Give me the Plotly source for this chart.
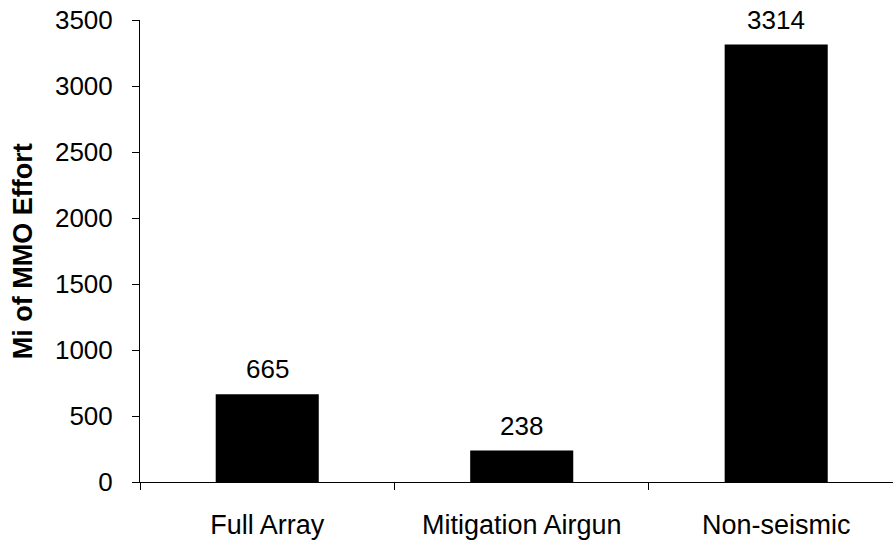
import plotly.graph_objects as go

categories = ["Full Array", "Mitigation Airgun", "Non-seismic"]
values = [665, 238, 3314]
y_ticks = [0, 500, 1000, 1500, 2000, 2500, 3000, 3500]
y_title = "Mi of MMO Effort"

FONT = "Liberation Sans, Arial, sans-serif"

fig = go.Figure()
fig.add_trace(go.Bar(
    x=categories, y=values,
    marker=dict(color="black", line=dict(color="black", width=0)),
    showlegend=False, hoverinfo="skip",
))

for c, v in zip(categories, values):
    fig.add_annotation(x=c, y=v, xref="x", yref="y", text=str(v),
                       showarrow=False, yanchor="bottom", yshift=8,
                       font=dict(family=FONT, size=26, color="black"))

fig.add_annotation(x=-0.155, y=0.5, xref="paper", yref="paper", text="<b>%s</b>" % y_title,
                   showarrow=False, textangle=-90, xanchor="center", yanchor="middle",
                   font=dict(family=FONT, size=27, color="black"))

fig.update_layout(
    width=893, height=541,
    margin=dict(l=140, r=0, t=20, b=59, autoexpand=False),
    plot_bgcolor="white", paper_bgcolor="white",
    bargap=0.595,
    font=dict(family=FONT, size=26, color="black"),
)
fig.update_xaxes(
    type="category", range=[-0.5, 2.459],
    showline=True, linecolor="black", linewidth=1,
    ticks="outside", tickson="boundaries", ticklen=7, tickcolor="black", tickwidth=1,
    ticklabelstandoff=19,
    showgrid=False, zeroline=False,
    tickfont=dict(family=FONT, size=27, color="black"),
)
fig.update_yaxes(
    range=[0, 3500], tickvals=y_ticks, ticktext=[str(t) for t in y_ticks],
    showline=True, linecolor="black", linewidth=1,
    ticks="outside", ticklen=7, tickcolor="black", tickwidth=1,
    ticklabelstandoff=14,
    showgrid=False, zeroline=False,
    tickfont=dict(family=FONT, size=26, color="black"),
)

fig.write_html(
    "out.html",
    config={"displayModeBar": False, "staticPlot": True},
    post_script="document.body.style.margin='0';document.body.style.overflow='hidden';",
)
